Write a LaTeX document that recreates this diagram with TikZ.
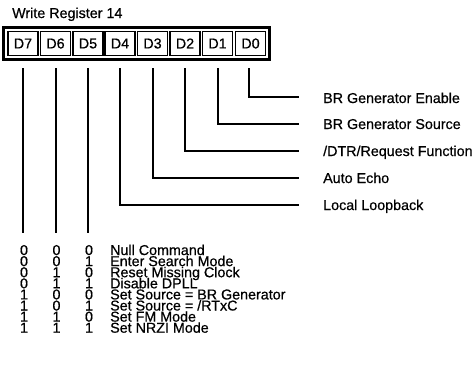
\documentclass[tikz,border=0pt]{standalone}
\usepackage{fontspec}
\setmainfont{Liberation Sans}[FakeBold=0.6]
\usetikzlibrary{fit}
\begin{document}
\begin{tikzpicture}[x=1pt,y=-1pt,
  every node/.style={font=\fontsize{14.3}{14}\selectfont, inner sep=0pt},
  cell/.style={draw, line width=1.3pt, minimum width=30pt, minimum height=24pt},
  frame/.style={draw, line width=2.6pt, inner sep=3.6pt},
  wire/.style={line width=2pt, line join=miter},
  lbl/.style={anchor=base west, text height=10pt, text depth=1pt},
  dig/.style={anchor=base, text height=10pt, text depth=0pt}]
\useasboundingbox (0,0) rectangle (476,368);
\node[anchor=base west] (title) at (12,18) {Write Register 14};
\foreach \n/\x in {7/23,6/55.5,5/88,4/120,3/152.5,2/185,1/217.5,0/250.5}
  \node[cell] (d\n) at (\x,43.5) {D\n};
\node[frame, fit=(d7)(d0)] (reg) {};
% wire start points
\foreach \n/\x in {7/23,6/55.5,5/88,4/120,3/152.5,2/185,1/217.5,0/249}
  \coordinate (s\n) at (\x,68);
\coordinate (e7) at (23,233);
\coordinate (e6) at (55.5,233);
\coordinate (e5) at (88,233);
\coordinate (e0) at (299,97);
\coordinate (e1) at (299,123.5);
\coordinate (e2) at (299,150.5);
\coordinate (e3) at (299,177.5);
\coordinate (e4) at (299,204.5);
\foreach \n in {7,6,5} \draw[wire] (s\n) -- (e\n);
\foreach \n in {0,1,2,3,4} \draw[wire] (s\n) |- (e\n);
\node[lbl] (l0) at (323,103) {BR Generator Enable};
\node[lbl] (l1) at (323,129) {BR Generator Source};
\node[lbl] (l2) at (323,156) {/DTR/Request Function};
\node[lbl] (l3) at (323,183) {Auto Echo};
\node[lbl] (l4) at (323,210) {Local Loopback};
% table
\foreach \a/\b/\c/\t [count=\i from 0] in {
  0/0/0/{Null Command},
  0/0/1/{Enter Search Mode},
  0/1/0/{Reset Missing Clock},
  0/1/1/{Disable DPLL},
  1/0/0/{Set Source = BR Generator},
  1/0/1/{Set Source = /RTxC},
  1/1/0/{Set FM Mode},
  1/1/1/{Set NRZI Mode}}{
  \pgfmathsetmacro{\yy}{255+11.1*\i}
  \node[dig] (ta\i) at (24,\yy) {\a};
  \node[dig] (tb\i) at (56.5,\yy) {\b};
  \node[dig] (tc\i) at (89,\yy) {\c};
  \node[lbl] (tt\i) at (110,\yy) {\t};
}
\end{tikzpicture}
\end{document}
